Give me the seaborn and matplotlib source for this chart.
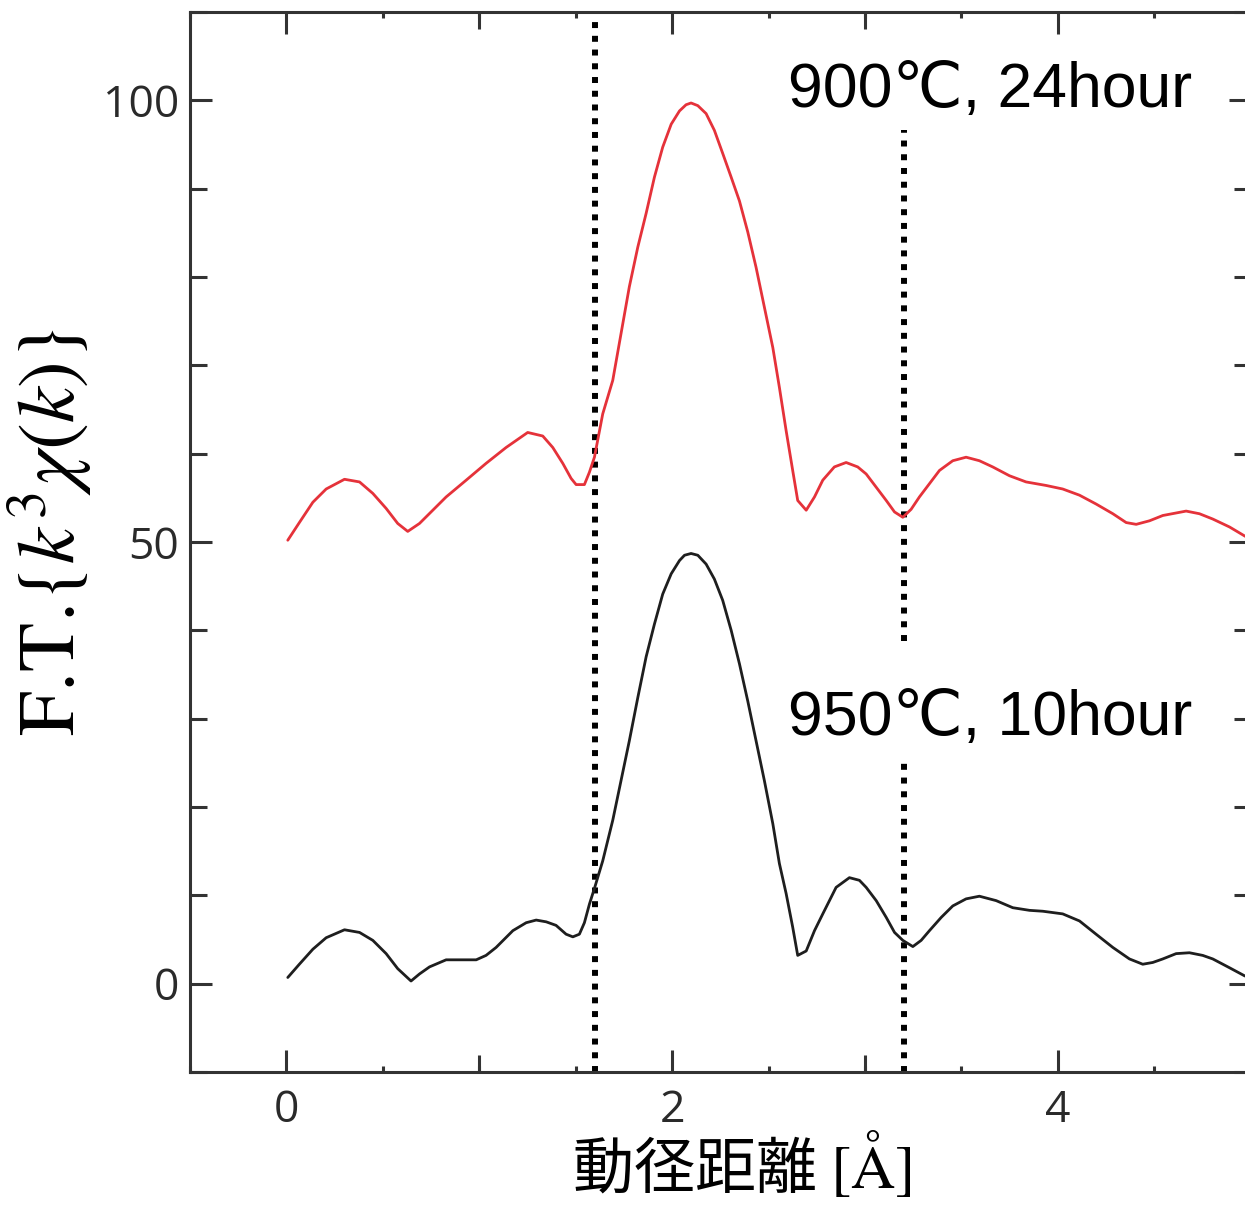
import matplotlib
matplotlib.use("Agg")
import matplotlib.pyplot as plt
import numpy as np
import pandas as pd
import seaborn as sns
from matplotlib.ticker import MultipleLocator, FixedLocator

# ---------------- data ----------------
r_900 = [0.007, 0.067, 0.137, 0.206, 0.301, 0.379, 0.448, 0.517, 0.577, 0.629,
         0.690, 0.759, 0.828, 0.932, 1.035, 1.139, 1.251, 1.329, 1.381, 1.433,
         1.476, 1.502, 1.545, 1.571, 1.597, 1.640, 1.692, 1.735, 1.778, 1.822,
         1.865, 1.908, 1.951, 1.995, 2.038, 2.072, 2.098, 2.133, 2.176, 2.219,
         2.262, 2.306, 2.349, 2.392, 2.435, 2.478, 2.522, 2.556, 2.591, 2.625,
         2.651, 2.695, 2.738, 2.781, 2.841, 2.902, 2.962, 3.006, 3.058, 3.110,
         3.153, 3.196, 3.239, 3.282, 3.334, 3.386, 3.455, 3.524, 3.593, 3.662,
         3.749, 3.835, 3.939, 4.025, 4.112, 4.198, 4.285, 4.354, 4.406, 4.475,
         4.544, 4.665, 4.734, 4.803, 4.890, 4.967, 5.000]
ft_900 = [50.2, 52.2, 54.5, 56.0, 57.1, 56.8, 55.5, 53.8, 52.1, 51.2,
          52.1, 53.6, 55.1, 57.0, 58.9, 60.7, 62.4, 62.0, 60.7, 58.9,
          57.2, 56.5, 56.5, 57.9, 59.6, 64.5, 68.3, 73.6, 78.9, 83.4,
          87.2, 91.3, 94.7, 97.3, 98.8, 99.5, 99.7, 99.4, 98.5, 96.6,
          94.0, 91.3, 88.6, 85.1, 81.1, 76.6, 72.0, 67.5, 62.6, 58.1,
          54.7, 53.6, 55.1, 57.0, 58.5, 59.0, 58.5, 57.7, 56.2, 54.7,
          53.4, 52.8, 53.7, 55.1, 56.6, 58.1, 59.2, 59.6, 59.2, 58.5,
          57.5, 56.8, 56.4, 56.0, 55.3, 54.3, 53.2, 52.2, 52.0, 52.4,
          53.0, 53.5, 53.2, 52.6, 51.7, 50.7, 50.3]

r_950 = [0.007, 0.067, 0.137, 0.206, 0.301, 0.379, 0.448, 0.517, 0.577, 0.646,
         0.690, 0.742, 0.828, 0.914, 0.984, 1.035, 1.087, 1.174, 1.243, 1.295,
         1.347, 1.398, 1.450, 1.485, 1.519, 1.545, 1.571, 1.600, 1.640, 1.692,
         1.735, 1.778, 1.822, 1.865, 1.908, 1.951, 1.995, 2.038, 2.064, 2.098,
         2.133, 2.176, 2.219, 2.262, 2.306, 2.349, 2.392, 2.435, 2.478, 2.522,
         2.556, 2.591, 2.625, 2.651, 2.695, 2.738, 2.781, 2.850, 2.919, 2.971,
         3.006, 3.058, 3.110, 3.153, 3.196, 3.248, 3.291, 3.334, 3.395, 3.455,
         3.524, 3.593, 3.680, 3.766, 3.853, 3.922, 4.025, 4.112, 4.198, 4.285,
         4.371, 4.440, 4.492, 4.544, 4.613, 4.682, 4.751, 4.803, 4.890, 4.967,
         5.000]
ft_950 = [0.7, 2.2, 3.9, 5.2, 6.1, 5.8, 4.9, 3.4, 1.7, 0.3,
          1.1, 1.9, 2.7, 2.7, 2.7, 3.2, 4.1, 6.0, 6.9, 7.2,
          7.0, 6.6, 5.6, 5.3, 5.6, 6.9, 9.0, 11.0, 13.9, 18.5,
          23.0, 27.5, 32.4, 37.0, 40.7, 44.1, 46.4, 47.9, 48.5, 48.7,
          48.5, 47.5, 45.8, 43.4, 40.0, 36.2, 32.0, 27.5, 23.0, 18.1,
          13.6, 10.2, 6.4, 3.2, 3.7, 6.0, 7.9, 10.9, 12.0, 11.7,
          10.9, 9.4, 7.5, 5.8, 4.9, 4.2, 4.9, 6.0, 7.5, 8.8,
          9.6, 9.9, 9.4, 8.6, 8.3, 8.2, 7.9, 7.1, 5.6, 4.1,
          2.8, 2.2, 2.4, 2.8, 3.4, 3.5, 3.2, 2.8, 1.8, 0.9,
          0.6]

sample_labels = ["900℃, 24hour", "950℃, 10hour"]
label_positions_x = [2.60, 2.60]
label_positions_y = [99.2, 28.1]
vline_positions = [1.6, 3.2]
x_tick_values = [0, 2, 4]
x_tick_labels = ["0", "2", "4"]
y_tick_values = [0, 50, 100]
y_tick_labels = ["0", "50", "100"]

df = pd.concat([
    pd.DataFrame({"r": r_900, "ft": ft_900, "sample": sample_labels[0]}),
    pd.DataFrame({"r": r_950, "ft": ft_950, "sample": sample_labels[1]}),
], ignore_index=True)

# ---------------- style ----------------
sns.set_style("ticks")
plt.rcParams["font.family"] = ["Open Sans", "DejaVu Sans"]
plt.rcParams["mathtext.fontset"] = "stix"

spine_col = "#333333"
fig = plt.figure(figsize=(12.45, 12.08), dpi=100)
ax = fig.add_axes([190 / 1245, 136 / 1208, (1250.75 - 190) / 1245, 1060 / 1208])

sns.lineplot(data=df, x="r", y="ft", hue="sample",
             palette={sample_labels[0]: "#e5323a", sample_labels[1]: "#1e1e1e"},
             sort=False, estimator=None, legend=False, linewidth=2.0, ax=ax,
             zorder=3)
for ln in ax.get_lines():
    ln.set_solid_joinstyle("round")
    ln.set_solid_capstyle("round")

ax.set_xlim(-0.5, 5.0)
ax.set_ylim(-10, 110)

# dotted guide lines
dots = dict(color="black", linewidth=4.3, linestyle=(0, (1, 1.3)), zorder=2)
ax.vlines(vline_positions[0], -10, 109.1, **dots)
ax.vlines(vline_positions[1], -10, 25.0, **dots)
ax.vlines(vline_positions[1], 38.8, 96.6, **dots)

# sample annotations
for lx, ly, lab in zip(label_positions_x, label_positions_y, sample_labels):
    ax.text(lx, ly, lab, fontsize=45, color="black", ha="left", va="baseline",
            family=["Liberation Sans", "DejaVu Sans"], zorder=4)

# spines & ticks
for s in ax.spines.values():
    s.set_color(spine_col)
    s.set_linewidth(2.2)

ax.xaxis.set_major_locator(FixedLocator(x_tick_values))
ax.set_xticklabels(x_tick_labels)
ax.xaxis.set_minor_locator(MultipleLocator(0.5))
ax.yaxis.set_major_locator(FixedLocator(y_tick_values))
ax.set_yticklabels(y_tick_labels)
ax.yaxis.set_minor_locator(MultipleLocator(10))

ax.tick_params(axis="both", which="both", direction="in", top=True, right=True,
               color=spine_col, width=2.2, labelcolor="#2a2a2a", labelsize=32)
ax.tick_params(axis="x", which="major", length=16, pad=12)
ax.tick_params(axis="x", which="minor", length=4.5)
ax.tick_params(axis="y", which="major", length=16, pad=8)
ax.tick_params(axis="y", which="minor", length=12)

# odd integers on x: long unlabeled ticks
extra = ax.secondary_xaxis("bottom")
extra.set_xticks([1, 3])
extra.set_xticklabels([])
extra.tick_params(direction="in", length=12, width=2.2, color=spine_col)
extra.spines["bottom"].set_visible(False)
extra_top = ax.secondary_xaxis("top")
extra_top.set_xticks([1, 3])
extra_top.set_xticklabels([])
extra_top.tick_params(direction="in", length=12, width=2.2, color=spine_col)
extra_top.spines["top"].set_visible(False)

ax.set_xlabel(r"動径距離 $[\mathrm{\AA}]$", fontsize=44,
              family=["Noto Sans CJK JP", "DejaVu Sans"], color="black")
ax.xaxis.set_label_coords((742 - 190) / (1250.75 - 190), -0.056)
ax.set_ylabel(r"F.T.$\{k^3\chi(k)\}$", fontsize=58, color="black",
              family=["STIXGeneral", "Liberation Serif"])
ax.yaxis.set_label_coords(-0.09, 0.51)

fig.savefig("out.png", dpi=100, facecolor="white")
